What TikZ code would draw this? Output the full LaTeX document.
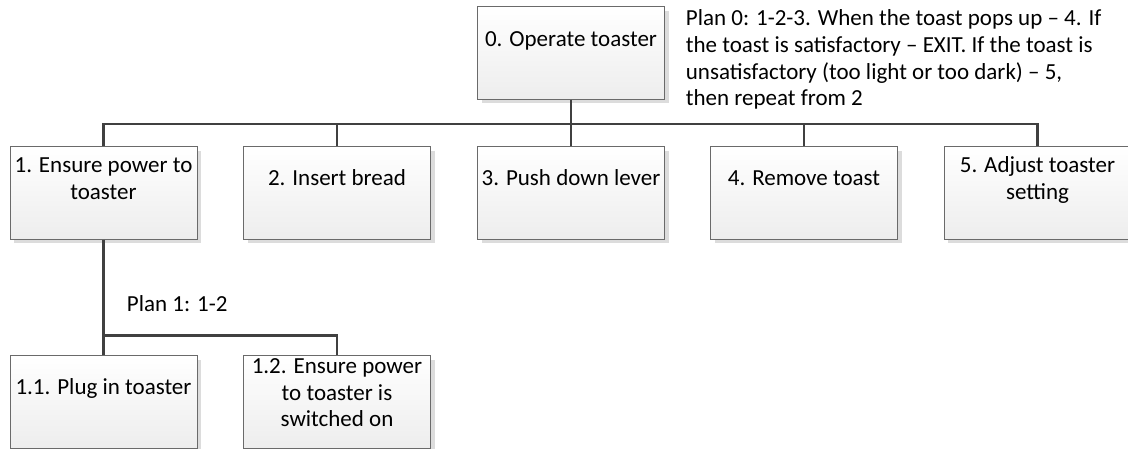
\documentclass[tikz,border=0pt]{standalone}
\usepackage{fontspec}
\setmainfont{Carlito}
\usetikzlibrary{shadows,calc}
\definecolor{linkgray}{HTML}{404040}
\definecolor{edgegray}{HTML}{6A6A6A}
\definecolor{fillbottom}{HTML}{EDEDED}
\definecolor{shadowgray}{HTML}{DCDCDC}

\begin{document}
\begin{tikzpicture}[x=1pt, y=-1pt,
  taskbox/.style={draw=edgegray, line width=0.9pt, top color=white,
    bottom color=fillbottom, minimum width=187pt, minimum height=92.5pt,
    inner sep=0pt,
    general shadow={fill=shadowgray, shadow xshift=4pt, shadow yshift=-4pt}},
  tasktext/.style={font=\fontsize{23}{26.7}\selectfont, align=center,
    anchor=base, inner sep=0pt},
  plantext/.style={font=\fontsize{23}{26.7}\selectfont, align=left,
    anchor=base west, inner sep=0pt},
  link/.style={draw=linkgray, line width=2.6pt}
]
\useasboundingbox (0,0) rectangle (1128,449);

% task boxes
\node[taskbox] (b0) at (571,53) {};
\node[taskbox] (b1) at (103.5,193) {};
\node[taskbox] (b2) at (337,193) {};
\node[taskbox] (b3) at (571,193) {};
\node[taskbox] (b4) at (804,193) {};
\node[taskbox] (b5) at (1037.5,193) {};
\node[taskbox] (b11) at (103.5,402) {};
\node[taskbox] (b12) at (337,402) {};

% task labels, placed by the baseline of their last line
\node[tasktext] (t0) at ($(b0.north)+(0,40)$) {0. Operate toaster};
\node[tasktext] (t1) at ($(b1.north)+(0,53.3)$) {1. Ensure power to\\toaster};
\node[tasktext] (t2) at ($(b2.north)+(0,39.3)$) {2. Insert bread};
\node[tasktext] (t3) at ($(b3.north)+(0,39.3)$) {3. Push down lever};
\node[tasktext] (t4) at ($(b4.north)+(0,39.3)$) {4. Remove toast};
\node[tasktext] (t5) at ($(b5.north)+(0,53.3)$) {5. Adjust toaster\\setting};
\node[tasktext] (t11) at ($(b11.north)+(0,39.3)$) {1.1. Plug in toaster};
\node[tasktext] (t12) at ($(b12.north)+(0,71.4)$) {1.2. Ensure power\\to toaster is\\switched on};

% plans
\node[plantext] (p0) at (685.7,105.8) {Plan 0: 1-2-3. When the toast pops up -- 4. If\\
  the toast is satisfactory -- EXIT. If the toast is\\
  unsatisfactory (too light or too dark) -- 5,\\
  then repeat from 2};
\node[plantext] (p1) at (126.7,312) {Plan 1: 1-2};

% hierarchy connectors
\coordinate (j0) at ($(b0.south)+(0,24.3)$);
\coordinate (j1) at ($(b1.south)+(0,95.7)$);
\draw[link] (b0.south) -- (j0);
\foreach \i in {1,...,5}
  \draw[link] (b\i.north) |- (j0);
\draw[link] (b1.south) -- (j1);
\draw[link] (b11.north) -- (j1);
\draw[link] (b12.north) |- (j1);
\end{tikzpicture}
\end{document}
